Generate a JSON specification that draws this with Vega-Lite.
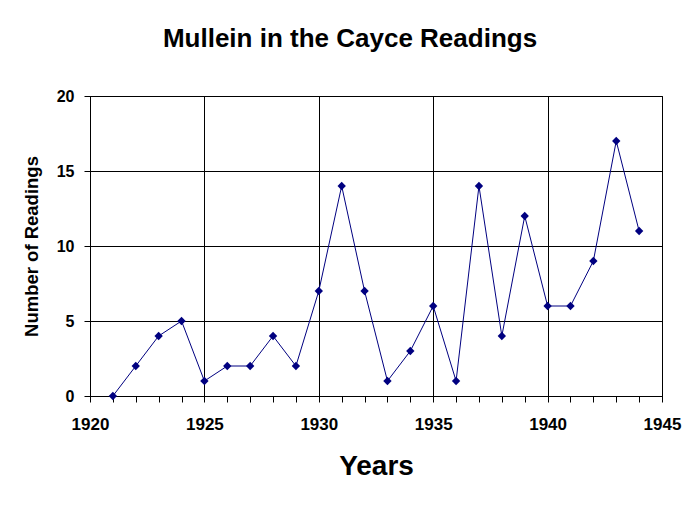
{
  "$schema": "https://vega.github.io/schema/vega-lite/v6.json",
  "width": 572,
  "height": 300,
  "autosize": {"type": "none"},
  "padding": {"left": 90, "top": 96, "right": 38, "bottom": 110},
  "background": "white",
  "title": {
    "text": "Mullein in the Cayce Readings",
    "font": "Liberation Sans",
    "fontSize": 26,
    "fontWeight": "bold",
    "color": "black",
    "anchor": "middle",
    "frame": "group",
    "baseline": "alphabetic",
    "dx": -26,
    "offset": 15
  },
  "data": {
    "values": [
      {"year": 1921, "readings": 0},
      {"year": 1922, "readings": 2},
      {"year": 1923, "readings": 4},
      {"year": 1924, "readings": 5},
      {"year": 1925, "readings": 1},
      {"year": 1926, "readings": 2},
      {"year": 1927, "readings": 2},
      {"year": 1928, "readings": 4},
      {"year": 1929, "readings": 2},
      {"year": 1930, "readings": 7},
      {"year": 1931, "readings": 14},
      {"year": 1932, "readings": 7},
      {"year": 1933, "readings": 1},
      {"year": 1934, "readings": 3},
      {"year": 1935, "readings": 6},
      {"year": 1936, "readings": 1},
      {"year": 1937, "readings": 14},
      {"year": 1938, "readings": 4},
      {"year": 1939, "readings": 12},
      {"year": 1940, "readings": 6},
      {"year": 1941, "readings": 6},
      {"year": 1942, "readings": 9},
      {"year": 1943, "readings": 17},
      {"year": 1944, "readings": 11}
    ]
  },
  "encoding": {
    "x": {
      "field": "year",
      "type": "quantitative",
      "scale": {"domain": [1920, 1945], "nice": false, "zero": false},
      "axis": {
        "title": "Years",
        "titleFont": "Liberation Sans",
        "titleFontSize": 28,
        "titleFontWeight": "bold",
        "titleColor": "black",
        "titleBaseline": "alphabetic",
        "titleY": 78,
        "values": [1920,1921,1922,1923,1924,1925,1926,1927,1928,1929,1930,1931,1932,1933,1934,1935,1936,1937,1938,1939,1940,1941,1942,1943,1944,1945],
        "format": "d",
        "labelExpr": "datum.value % 5 === 0 ? datum.label : ''",
        "labelFont": "Liberation Sans",
        "labelFontSize": 17,
        "labelFontWeight": "bold",
        "labelColor": "black",
        "labelBaseline": "alphabetic",
        "labelPadding": 27,
        "labelFlush": false,
        "labelOverlap": false,
        "tickSize": 6,
        "tickColor": "black",
        "domainColor": "black",
        "grid": true,
        "gridColor": "black",
        "gridOpacity": {"condition": {"test": "datum.value % 5 === 0", "value": 1}, "value": 0}
      }
    },
    "y": {
      "field": "readings",
      "type": "quantitative",
      "scale": {"domain": [0, 20], "nice": false},
      "axis": {
        "title": "Number of Readings",
        "titleFont": "Liberation Sans",
        "titleFontSize": 18.5,
        "titleFontWeight": "bold",
        "titleColor": "black",
        "titleAngle": 270,
        "titleBaseline": "alphabetic",
        "titleX": -53,
        "titleY": 150,
        "values": [0, 5, 10, 15, 20],
        "labelFont": "Liberation Sans",
        "labelFontSize": 16,
        "labelFontWeight": "bold",
        "labelColor": "black",
        "labelPadding": 10,
        "tickSize": 6,
        "tickColor": "black",
        "domainColor": "black",
        "grid": true,
        "gridColor": "black",
        "gridOpacity": 1
      }
    }
  },
  "layer": [
    {"mark": {"type": "line", "color": "#000080", "strokeWidth": 1}},
    {"mark": {"type": "point", "shape": "diamond", "filled": true, "size": 70, "color": "#000080", "opacity": 1}}
  ],
  "config": {
    "view": {"stroke": "black", "strokeWidth": 1}
  }
}
